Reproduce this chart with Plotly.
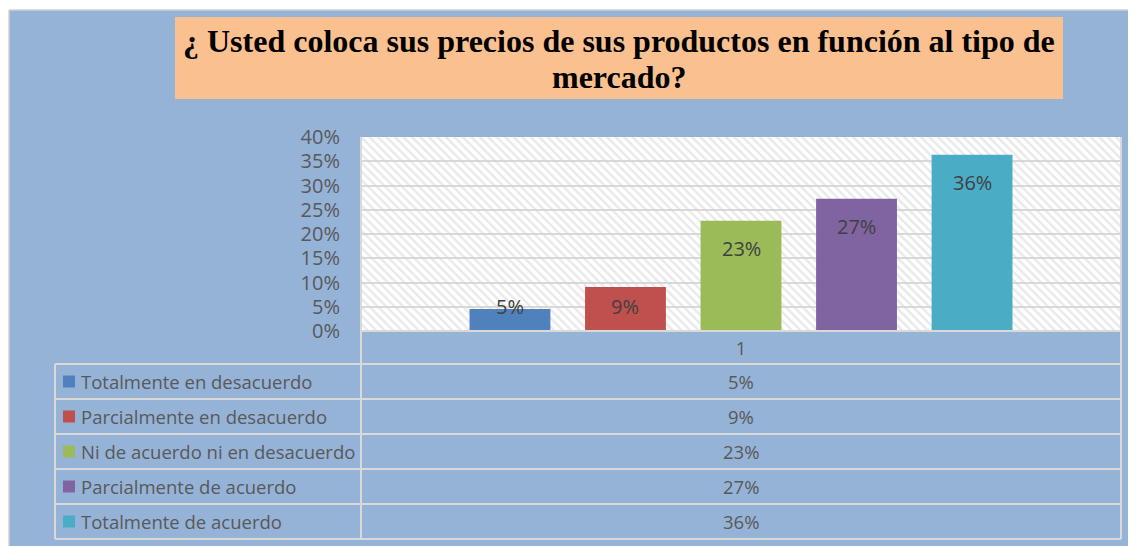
import plotly.graph_objects as go

# ---------------- data ----------------
categories = [
    "Totalmente en desacuerdo",
    "Parcialmente en desacuerdo",
    "Ni de acuerdo ni en desacuerdo",
    "Parcialmente de acuerdo",
    "Totalmente de acuerdo",
]
values = [0.0455, 0.0909, 0.2273, 0.2727, 0.3636]
colors = ["#4F81BD", "#C0504D", "#9BBB59", "#8064A2", "#4BACC6"]
x_category = ["1"]
y_ticks = [0, 0.05, 0.10, 0.15, 0.20, 0.25, 0.30, 0.35, 0.40]
title_lines = [
    "¿ Usted coloca sus precios de sus productos en función al tipo de",
    "mercado?",
]

# ---------------- layout geometry (page pixels) ----------------
OFF = 8                      # default body margin of the html page
PAGE_W, PAGE_H = 1136, 546
FIG_W, FIG_H = PAGE_W - OFF, PAGE_H - OFF
PLOT_L, PLOT_R, PLOT_T, PLOT_B = 361, 1121, 137, 331   # page coordinates
M_L = PLOT_L - OFF
M_T = PLOT_T - OFF
M_R = FIG_W - (PLOT_R - OFF)
M_B = FIG_H - (PLOT_B - OFF)
PW = PLOT_R - PLOT_L
PH = PLOT_B - PLOT_T
Y_MAX = 0.40
BARGAP, BARGROUPGAP = 0.24, 0.30

BG_BLUE = "#95B3D7"
GRID = "#D9D9D9"
TXT = "#595959"
FONT = "Open Sans"


def px(x):
    return (x - PLOT_L) / PW


def py(y):
    return (PLOT_B - y) / PH


fig = go.Figure()

# hatched plot-area background (below the data bars)
fig.add_trace(go.Bar(
    x=[0.5], y=[Y_MAX], width=[1], xaxis="x", yaxis="y",
    marker=dict(color="rgba(0,0,0,0)", line=dict(width=0),
                pattern=dict(shape="\\", fgcolor="#D3D3D3", size=6, solidity=0.4)),
    hoverinfo="skip", showlegend=False,
))

# data bars
for name, val, col in zip(categories, values, colors):
    fig.add_trace(go.Bar(
        x=x_category, y=[val], name=name, xaxis="x2", yaxis="y",
        marker=dict(color=col, line=dict(width=0)),
        showlegend=False,
    ))

shapes = []
annotations = []

# white page margins on top/left and light border of the chart area
shapes.append(dict(type="rect", xref="paper", yref="paper", x0=px(-20), x1=px(PAGE_W + 20),
                   y0=py(10), y1=py(-20), fillcolor="white", line=dict(width=0), layer="below"))
shapes.append(dict(type="rect", xref="paper", yref="paper", x0=px(-20), x1=px(9),
                   y0=py(PAGE_H + 20), y1=py(-20), fillcolor="white", line=dict(width=0), layer="below"))
shapes.append(dict(type="line", xref="paper", yref="paper", x0=px(9), x1=px(PAGE_W + 20),
                   y0=py(10), y1=py(10), line=dict(color="#D0D0D0", width=1.5)))
shapes.append(dict(type="line", xref="paper", yref="paper", x0=px(9), x1=px(9),
                   y0=py(10), y1=py(PAGE_H + 20), line=dict(color="#D0D0D0", width=1.5)))

# title box
shapes.append(dict(type="rect", xref="paper", yref="paper", x0=px(175), x1=px(1063),
                   y0=py(99), y1=py(17), fillcolor="#FAC090", line=dict(width=0)))
for line, yc in zip(title_lines, [41, 77]):
    annotations.append(dict(text="<b>" + line + "</b>", xref="paper", yref="paper",
                            x=px(619), y=py(yc), xanchor="center", yanchor="middle",
                            showarrow=False,
                            font=dict(family="Liberation Serif", size=32, color="black")))

# data table
TABLE_L = 55
ROW0 = 364
ROW_H = 35
n = len(categories)
table_bottom = ROW0 + n * ROW_H
line_style = dict(color=GRID, width=2)

shapes.append(dict(type="line", xref="paper", yref="paper", x0=px(PLOT_L), x1=px(PLOT_R),
                   y0=py(PLOT_B), y1=py(PLOT_B), line=line_style))
for k in range(n + 1):
    yy = ROW0 + k * ROW_H
    shapes.append(dict(type="line", xref="paper", yref="paper", x0=px(TABLE_L), x1=px(PLOT_R),
                       y0=py(yy), y1=py(yy), line=line_style))
shapes.append(dict(type="line", xref="paper", yref="paper", x0=px(TABLE_L), x1=px(TABLE_L),
                   y0=py(ROW0), y1=py(table_bottom), line=line_style))
for xx in (PLOT_L, PLOT_R):
    shapes.append(dict(type="line", xref="paper", yref="paper", x0=px(xx), x1=px(xx),
                       y0=py(PLOT_T), y1=py(table_bottom), line=line_style))

for k, (name, val, col) in enumerate(zip(categories, values, colors)):
    yc = ROW0 + k * ROW_H + ROW_H / 2
    shapes.append(dict(type="rect", xref="paper", yref="paper", x0=px(63), x1=px(75),
                       y0=py(yc + 6), y1=py(yc - 6), fillcolor=col, line=dict(width=0)))
    annotations.append(dict(text=name, xref="paper", yref="paper", x=px(79), y=py(yc),
                            xanchor="left", yanchor="middle", showarrow=False,
                            font=dict(family=FONT, size=18.5, color=TXT)))
    annotations.append(dict(text=f"{val:.0%}", xref="paper", yref="paper",
                            x=px((PLOT_L + PLOT_R) / 2), y=py(yc),
                            xanchor="center", yanchor="middle", showarrow=False,
                            font=dict(family=FONT, size=18.5, color=TXT)))

# data labels (Excel "inside end" placement)
ppu = PH / Y_MAX
slot = PW * (1 - BARGAP) / n
for i, val in enumerate(values):
    h = val * ppu
    d = min(28, h - 24)
    annotations.append(dict(text=f"{val:.0%}", xref="paper", yref="y",
                            x=0.5, y=val, xshift=(i - (n - 1) / 2) * slot, yshift=-d,
                            xanchor="center", yanchor="middle", showarrow=False,
                            font=dict(family=FONT, size=20, color="#404040")))

fig.update_layout(
    width=FIG_W, height=FIG_H,
    margin=dict(l=M_L, r=M_R, t=M_T, b=M_B, pad=0),
    paper_bgcolor=BG_BLUE, plot_bgcolor="white",
    barmode="group", bargap=BARGAP, bargroupgap=BARGROUPGAP,
    showlegend=False,
    shapes=shapes, annotations=annotations,
    xaxis=dict(range=[0, 1], visible=False, fixedrange=True),
    xaxis2=dict(type="category", overlaying="x", side="bottom", range=[-0.5, 0.5],
                showgrid=False, zeroline=False, showline=False, ticks="",
                tickfont=dict(family=FONT, size=18.5, color=TXT), ticklabelstandoff=4),
    yaxis=dict(range=[0, Y_MAX], tickvals=y_ticks, tickformat=".0%",
               showgrid=True, gridcolor=GRID, gridwidth=2, zeroline=False,
               showline=False, ticks="", ticklabelstandoff=20,
               tickfont=dict(family=FONT, size=20, color=TXT)),
)

fig.write_html("out.html")
